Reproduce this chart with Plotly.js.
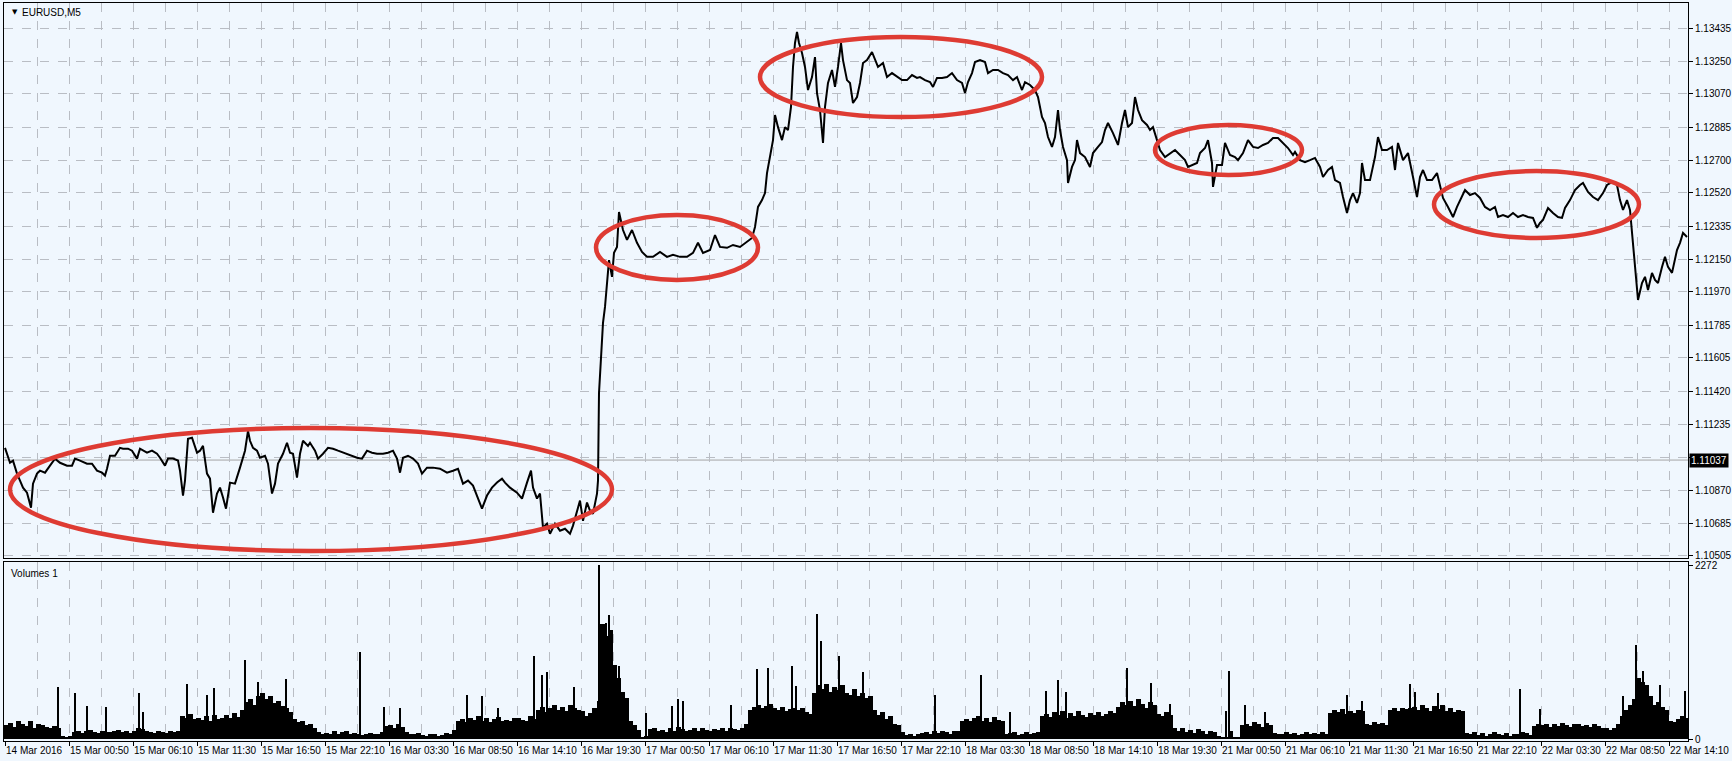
<!DOCTYPE html>
<html><head><meta charset="utf-8">
<script src="https://cdn.plot.ly/plotly-3.0.1.min.js"></script>
<style>html,body{margin:0;padding:0;background:#F0F7FE;overflow:hidden}#chart{width:1732px;height:761px}</style>
</head><body><div id="chart"></div>
<script>
// ---- EURUSD M5 close prices, sampled (bar number counted from first visible bar) ----
const priceBar = [
0,5,8,12,15,18,22,26,28,32,35,40,45,50,55,62,67,70,75,82,87,92,97,100,102,105,110,115,118,123,127,132,135,142,147,152,155,160,163,168,173,175,178,180,183,187,192,195,198,202,205,208,212,215,218,221,225,230,235,240,243,245,248,252,255,260,263,267,270,273,278,282,285,288,292,295,298,303,
305,310,313,318,323,328,333,338,345,352,357,362,367,372,378,383,388,392,395,398,403,408,413,417,422,428,435,442,448,453,458,463,468,473,477,482,487,492,497,500,505,512,517,522,526,528,532,535,538,542,545,550,555,560,565,568,572,575,578,582,585,588,592,593,594,596,598,600,602,604,607,609,612,
614,618,622,627,632,637,642,648,655,662,668,675,682,688,693,698,705,710,715,722,728,735,742,747,750,753,757,760,762,765,768,770,773,777,780,783,786,788,790,792,794,797,800,803,807,810,812,815,818,820,823,827,830,833,836,838,842,845,848,852,855,858,862,867,870,873,878,882,887,892,897,902,907,912,
915,920,925,928,932,937,942,947,952,957,960,963,967,970,975,980,983,988,993,998,1003,1008,1012,1017,1020,1025,1030,1033,1037,1040,1043,1047,1050,1053,1055,1058,1062,1063,1067,1070,1072,1075,1080,1085,1088,1093,1097,1100,1103,1108,1113,1117,1120,1123,1127,1130,1133,1137,1142,1145,1148,1152,1155,1160,1165,1170,1175,1180,1183,1187,1192,1195,1200,1203,1207,1208,1212,1217,1220,1225,1230,1233,1238,1243,1248,1253,1258,1263,1268,1273,1278,1283,1288,
1290,1295,1300,1305,1310,1315,1318,1323,1327,1330,1335,1338,1342,1345,1348,1352,1355,1357,1360,1365,1370,1373,1377,1382,1387,1390,1393,1398,1403,1408,1412,1415,1418,1422,1427,1432,1435,1438,1443,1448,1452,1457,1460,1465,1470,1475,1480,1485,1490,1493,1498,1503,1508,1513,1518,1523,1528,1532,1535,1538,1543,1548,1553,1557,1560,1565,1570,1575,1578,1583,1588,1593,1598,1602,1607,1612,1615,1618,1622,1625,1628,1632,1633,1637,1640,1643,1647,1650,1653,1657,1660,1663,1667,1672,1675,1678,1682];
const priceClose = [
1.11105,1.11022,1.11034,1.10962,1.10923,1.10884,1.10856,1.10773,1.10906,1.10962,1.10978,1.10967,1.11006,1.11045,1.11022,1.11006,1.11006,1.11045,1.11034,1.11017,1.11017,1.10978,1.10967,1.10951,1.10989,1.11061,1.11061,1.11105,1.11100,1.11100,1.11089,1.11045,1.11100,1.11078,1.11089,1.11072,1.11050,1.11006,1.11045,1.11045,1.11034,1.10978,1.10840,1.10923,1.11155,1.11161,1.11078,1.11089,1.11116,1.10962,1.10934,1.10745,1.10851,1.10884,1.10829,1.10767,1.10912,1.10906,1.10995,1.11089,1.11199,1.11144,1.11105,1.11089,1.11050,1.11061,1.11017,1.10851,1.10906,1.11017,1.11072,1.11133,1.11078,1.11072,1.10940,1.11072,1.11144,1.11116,
1.11133,1.11089,1.11045,1.11072,1.11105,1.11100,1.11089,1.11078,1.11061,1.11050,1.11045,1.11089,1.11078,1.11072,1.11072,1.11078,1.11089,1.11045,1.10967,1.11050,1.11061,1.11045,1.11017,1.10962,1.10995,1.10995,1.10989,1.10967,1.10978,1.10989,1.10906,1.10923,1.10895,1.10829,1.10767,1.10840,1.10884,1.10912,1.10934,1.10912,1.10884,1.10856,1.10823,1.10912,1.10978,1.10884,1.10823,1.10851,1.10662,1.10684,1.10628,1.10684,1.10645,1.10656,1.10628,1.10673,1.10756,1.10812,1.10700,1.10801,1.10756,1.10739,1.10851,1.10923,1.11409,1.11631,1.11798,1.11887,1.12037,1.12147,1.12054,1.12187,1.12220,
1.12414,1.12314,1.12259,1.12314,1.12243,1.12192,1.12165,1.12165,1.12192,1.12165,1.12176,1.12165,1.12165,1.12187,1.12243,1.12187,1.12203,1.12286,1.12220,1.12215,1.12231,1.12220,1.12248,1.12270,1.12331,1.12442,1.12480,1.12519,1.12630,1.12719,1.12813,1.12952,1.12885,1.12813,1.12885,1.12869,1.12997,1.13219,1.13352,1.13413,1.13352,1.13296,1.13219,1.13091,1.13163,1.13274,1.13074,1.12980,1.12797,1.12997,1.13130,1.13202,1.13108,1.13219,1.13352,1.13257,1.13146,1.13130,1.13019,1.13052,1.13130,1.13241,1.13257,1.13302,1.13257,1.13219,1.13241,1.13163,1.13185,1.13163,1.13146,1.13146,1.13174,1.13158,
1.13163,1.13146,1.13135,1.13108,1.13158,1.13158,1.13163,1.13185,1.13146,1.13130,1.13074,1.13135,1.13185,1.13246,1.13257,1.13246,1.13185,1.13202,1.13202,1.13185,1.13174,1.13146,1.13163,1.13091,1.13135,1.13119,1.13091,1.13052,1.12941,1.12908,1.12830,1.12775,1.12830,1.12980,1.12869,1.12775,1.12702,1.12575,1.12664,1.12702,1.12813,1.12741,1.12719,1.12664,1.12741,1.12775,1.12802,1.12869,1.12908,1.12852,1.12786,1.12908,1.12980,1.12885,1.12908,1.13052,1.12980,1.12924,1.12897,1.12869,1.12885,1.12813,1.12758,1.12719,1.12741,1.12758,1.12730,1.12702,1.12664,1.12675,1.12686,1.12741,1.12769,1.12813,1.12686,1.12553,1.12675,1.12675,1.12797,1.12730,1.12719,1.12702,1.12741,1.12813,1.12775,1.12769,1.12786,1.12797,1.12825,1.12825,1.12797,1.12769,1.12730,
1.12747,1.12702,1.12691,1.12702,1.12714,1.12664,1.12608,1.12647,1.12664,1.12591,1.12575,1.12497,1.12408,1.12480,1.12519,1.12464,1.12519,1.12686,1.12591,1.12591,1.12719,1.12830,1.12758,1.12758,1.12775,1.12647,1.12797,1.12702,1.12741,1.12608,1.12497,1.12608,1.12647,1.12591,1.12591,1.12630,1.12553,1.12492,1.12442,1.12386,1.12442,1.12497,1.12536,1.12508,1.12519,1.12492,1.12442,1.12425,1.12442,1.12386,1.12397,1.12386,1.12408,1.12386,1.12397,1.12386,1.12381,1.12326,1.12353,1.12370,1.12436,1.12408,1.12386,1.12381,1.12436,1.12480,1.12536,1.12564,1.12575,1.12525,1.12497,1.12480,1.12519,1.12564,1.12580,1.12564,1.12480,1.12425,1.12480,1.12425,1.12243,1.11998,1.11926,1.12020,1.12054,1.11981,1.12076,1.12037,1.12020,1.12109,1.12165,1.12109,1.12076,1.12203,1.12243,1.12298,1.12275];

// ---- tick volume: general level for each block of 4 bars ----
const volumeBlock = [
180,210,160,230,190,170,240,150,200,180,160,140,170,150,40,30,
40,90,110,80,100,120,90,80,110,95,85,100,120,90,105,80,
100,140,130,110,90,80,100,90,80,100,90,110,300,280,330,260,
270,250,300,240,320,260,280,310,270,340,290,380,480,520,450,560,
600,520,560,470,500,430,400,350,260,220,240,180,200,150,90,70,
80,60,100,70,90,110,60,80,70,50,60,80,70,60,90,170,
180,150,200,160,90,70,60,80,50,40,70,60,40,50,80,60,
120,230,260,220,280,250,300,240,270,220,260,290,230,250,240,270,
280,250,240,300,260,380,420,350,400,450,380,420,360,440,400,380,
370,300,340,410,380,1500,1350,1420,960,800,620,540,240,180,120,30,
40,130,150,100,120,90,140,110,160,130,100,120,150,110,140,120,
100,130,120,150,110,140,130,120,150,200,380,420,450,400,430,460,
400,380,420,360,390,410,380,400,350,330,600,700,650,720,620,680,
640,700,600,580,650,560,600,540,560,380,320,350,260,300,200,180,
90,50,70,40,60,80,90,70,110,80,100,90,70,110,100,230,
260,230,280,300,240,270,220,290,250,230,60,80,90,50,70,90,
60,80,90,300,330,290,350,310,370,280,340,300,360,320,290,340,
310,350,300,330,360,340,420,480,450,500,430,520,460,410,480,440,
330,300,350,320,140,100,150,90,120,80,130,100,70,110,90,40,
20,30,100,30,20,180,200,170,220,190,160,210,180,80,60,70,
90,60,80,50,70,90,60,80,70,90,60,340,380,350,390,330,
360,340,380,370,200,180,220,190,210,180,380,400,370,410,390,400,
420,380,450,400,360,430,390,440,370,410,350,380,360,80,60,90,
50,80,40,70,90,60,50,80,40,70,60,90,80,50,170,190,
180,200,160,190,170,210,180,160,190,200,170,180,160,190,170,150,
140,120,150,200,300,380,450,520,800,750,700,560,450,480,420,380,
240,220,260,300,280];
// ---- single-bar volume spikes ----
const spikeBar = [53,70,82,101,134,138,182,202,209,240,253,281,355,379,395,462,477,493,529,537,542,569,593,594,601,604,614,641,667,673,678,726,752,763,787,791,812,816,834,858,930,976,1005,1041,1053,1061,1122,1146,1165,1221,1224,1240,1260,1342,1357,1405,1410,1433,1515,1535,1618,1631,1638,1655,1680];
const spikeVolume = [680,600,430,420,600,350,720,580,670,1030,750,790,1135,420,400,570,560,410,1090,830,870,680,500,2272,1520,1620,950,335,430,520,500,450,920,930,955,690,1630,1280,1090,870,580,840,350,630,770,615,930,735,455,370,890,445,350,575,500,720,615,600,655,390,560,1225,890,710,625];

// ---- axis labels ----
const timeLabels = ['14 Mar 2016','15 Mar 00:50','15 Mar 06:10','15 Mar 11:30','15 Mar 16:50','15 Mar 22:10','16 Mar 03:30','16 Mar 08:50','16 Mar 14:10','16 Mar 19:30','17 Mar 00:50','17 Mar 06:10','17 Mar 11:30','17 Mar 16:50','17 Mar 22:10','18 Mar 03:30','18 Mar 08:50','18 Mar 14:10','18 Mar 19:30','21 Mar 00:50','21 Mar 06:10','21 Mar 11:30','21 Mar 16:50','21 Mar 22:10','22 Mar 03:30','22 Mar 08:50','22 Mar 14:10'];
const barsPerLabel = 64;
const priceTicks = [1.10505,1.10685,1.10870,1.11050,1.11235,1.11420,1.11605,1.11785,1.11970,1.12150,1.12335,1.12520,1.12700,1.12885,1.13070,1.13250,1.13435];
const priceTickLabels = ['1.10505','1.10685','1.10870','','1.11235','1.11420','1.11605','1.11785','1.11970','1.12150','1.12335','1.12520','1.12700','1.12885','1.13070','1.13250','1.13435'];
const volumeTicks = [0, 2272];
const bidPrice = 1.11037;
// highlighted ranges: [first bar, last bar, low price, high price]
const ellipses = [
  [5, 607, 1.10532, 1.11215],
  [591, 753, 1.12037, 1.12397],
  [755, 1037, 1.12941, 1.13385],
  [1150, 1297, 1.12619, 1.12897],
  [1429, 1634, 1.12270, 1.12641]
];

const FONT = 'Liberation Sans, Arial, sans-serif';
const GRID = '#B9BDC4';
const BG = '#F0F7FE';
const tickPos = timeLabels.map((_, i) => i * barsPerLabel);

const traces = [
  {x: priceBar, y: priceClose, type: 'scatter', mode: 'lines',
   line: {color: '#000', width: 2}, xaxis: 'x', yaxis: 'y', hoverinfo: 'skip'},
  {x: volumeBlock.map((_, i) => i * 4 + 1.5), y: volumeBlock, type: 'bar', width: 4.2,
   marker: {color: '#000', line: {width: 0}}, xaxis: 'x2', yaxis: 'y2', hoverinfo: 'skip'},
  {x: spikeBar, y: spikeVolume, type: 'bar', width: 1.3,
   marker: {color: '#000', line: {width: 0}}, xaxis: 'x2', yaxis: 'y2', hoverinfo: 'skip'}
];

const xCommon = {
  range: [-1, 1683], showgrid: true, gridcolor: GRID, griddash: 'dash', gridwidth: 1,
  minor: {tick0: 0, dtick: 32, showgrid: true, gridcolor: GRID, griddash: 'dash', gridwidth: 1, ticks: ''},
  tickmode: 'array', tickvals: tickPos, zeroline: false,
  showline: true, mirror: true, linecolor: '#000', linewidth: 1
};

const shapes = ellipses.map(e => ({
  type: 'circle', xref: 'x', yref: 'y', x0: e[0], x1: e[1], y0: e[2], y1: e[3],
  line: {color: '#DE3B33', width: 4.5}, layer: 'above'
}));
shapes.push({type: 'line', xref: 'x domain', x0: 0, x1: 1, yref: 'y', y0: bidPrice, y1: bidPrice,
  line: {color: '#A4A4A4', width: 1}, layer: 'below'});

const layout = {
  width: 1732, height: 761,
  margin: {l: 4, r: 44, t: 3, b: 20, pad: 0},
  paper_bgcolor: BG, plot_bgcolor: BG,
  showlegend: false, hovermode: false, barmode: 'overlay', bargap: 0,
  font: {family: FONT, size: 10, color: '#000'},
  xaxis: Object.assign({}, xCommon, {anchor: 'y', domain: [0, 1], showticklabels: false, ticks: ''}),
  xaxis2: Object.assign({}, xCommon, {anchor: 'y2', domain: [0, 1], matches: 'x',
    ticktext: timeLabels, showticklabels: true, ticklabelposition: 'outside right', tickangle: 0,
    ticks: 'outside', ticklen: 4, tickcolor: '#000', tickfont: {family: FONT, size: 10, color: '#000'}}),
  yaxis: {domain: [0.2480, 1], range: [1.104935, 1.13574], side: 'right', anchor: 'x',
    tickmode: 'array', tickvals: priceTicks, ticktext: priceTickLabels,
    ticks: 'outside', ticklen: 4, tickcolor: '#000',
    showgrid: true, gridcolor: GRID, griddash: 'dash', zeroline: false,
    showline: true, mirror: true, linecolor: '#000', linewidth: 1,
    tickfont: {family: FONT, size: 10, color: '#000'}},
  yaxis2: {domain: [0, 0.2425], range: [-26, 2311], side: 'right', anchor: 'x2',
    tickmode: 'array', tickvals: volumeTicks, ticktext: volumeTicks.map(String),
    ticks: 'outside', ticklen: 4, tickcolor: '#000', showgrid: false, zeroline: false,
    showline: true, mirror: true, linecolor: '#000', linewidth: 1,
    tickfont: {family: FONT, size: 10, color: '#000'}},
  shapes: shapes,
  annotations: [
    {xref: 'paper', yref: 'paper', x: 0, y: 1, xanchor: 'left', yanchor: 'middle', xshift: 6, yshift: -9,
     text: '▼', showarrow: false, font: {family: 'DejaVu Sans', size: 7, color: '#000'}},
    {xref: 'paper', yref: 'paper', x: 0, y: 1, xanchor: 'left', yanchor: 'middle', xshift: 16, yshift: -9,
     text: 'EURUSD,M5', showarrow: false, font: {family: FONT, size: 10, color: '#000'}},
    {xref: 'paper', yref: 'paper', x: 0, y: 0.2425, xanchor: 'left', yanchor: 'middle', xshift: 5, yshift: -11,
     text: 'Volumes 1', showarrow: false, font: {family: FONT, size: 10, color: '#000'}},
    {xref: 'paper', yref: 'y', x: 1, y: bidPrice, xanchor: 'left', yanchor: 'middle', xshift: 1,
     text: bidPrice.toFixed(5), showarrow: false, bgcolor: '#000', borderpad: 1,
     font: {family: FONT, size: 10, color: '#FFF'}}
  ]
};

Plotly.newPlot('chart', traces, layout, {staticPlot: true, displayModeBar: false});
</script>
</body></html>
